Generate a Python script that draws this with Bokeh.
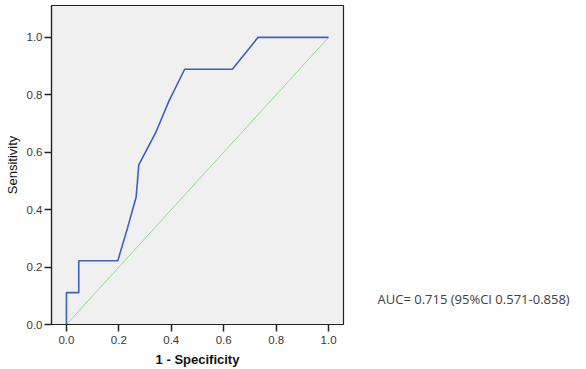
from bokeh.plotting import figure
from bokeh.models import Range1d, FixedTicker, Label, CustomJSTickFormatter
from bokeh.layouts import row
from bokeh.embed import file_html
from bokeh.resources import INLINE

# ROC curve (1 - specificity, sensitivity)
fpr = [0.0, 0.0, 0.047, 0.047, 0.196, 0.232, 0.266, 0.276, 0.340, 0.391, 0.451, 0.633, 0.731, 1.0]
tpr = [0.0, 0.111, 0.111, 0.222, 0.222, 0.333, 0.444, 0.556, 0.667, 0.778, 0.889, 0.889, 1.0, 1.0]
ref_x = [0.0, 1.0]
ref_y = [0.0, 1.0]
ticks = [0.0, 0.2, 0.4, 0.6, 0.8, 1.0]
auc_text = "AUC= 0.715 (95%CI 0.571-0.858)"

p = figure(width=360, height=369, output_backend="svg", toolbar_location=None,
           x_range=Range1d(-0.057, 1.057), y_range=Range1d(0.0, 1.111),
           min_border_left=51, min_border_right=17, min_border_top=5, min_border_bottom=44)
p.background_fill_color = "#f0f0f0"
p.border_fill_color = "white"
p.outline_line_color = "#222222"
p.outline_line_width = 1.2
p.grid.visible = False

p.line(ref_x, ref_y, line_color="#8fdc8f", line_width=1)
p.line(fpr, tpr, line_color="#3f5fbf", line_width=1.6)

fmt = CustomJSTickFormatter(code="return tick.toFixed(1);")
for ax in (p.xaxis[0], p.yaxis[0]):
    ax.ticker = FixedTicker(ticks=ticks)
    ax.formatter = fmt
    ax.major_label_text_font = "Liberation Sans"
    ax.major_label_text_font_size = "11.5px"
    ax.major_label_text_color = "#383838"
    ax.major_tick_line_color = "#222222"
    ax.major_tick_line_width = 1.5
    ax.major_tick_out = 7
    ax.major_tick_in = 0
    ax.minor_tick_line_color = None
    ax.axis_line_color = "#222222"
    ax.axis_line_width = 1.2
    ax.axis_label_text_font = "Liberation Sans"
    ax.axis_label_text_font_size = "13px"
    ax.axis_label_text_color = "#111111"

p.xaxis.major_label_standoff = 4
p.yaxis.major_label_standoff = 2
p.xaxis.axis_label = "1 - Specificity"
p.yaxis.axis_label = "Sensitivity"
p.xaxis.axis_label_text_font_style = "bold"
p.yaxis.axis_label_text_font_style = "normal"
p.xaxis.axis_label_standoff = 5
p.yaxis.axis_label_standoff = 4

p2 = figure(width=226, height=369, output_backend="svg", toolbar_location=None,
            x_range=Range1d(0, 1), y_range=Range1d(0, 1),
            min_border=0)
p2.axis.visible = False
p2.grid.visible = False
p2.outline_line_color = None
p2.background_fill_color = "white"
p2.border_fill_color = "white"
lab = Label(x=17, y=26, x_units="screen", y_units="screen", text=auc_text,
            text_font="Open Sans", text_font_size="13px", text_color="#404040",
            text_baseline="middle")
p2.add_layout(lab)

layout = row(p, p2)
open("out.html", "w").write(file_html(layout, INLINE))
